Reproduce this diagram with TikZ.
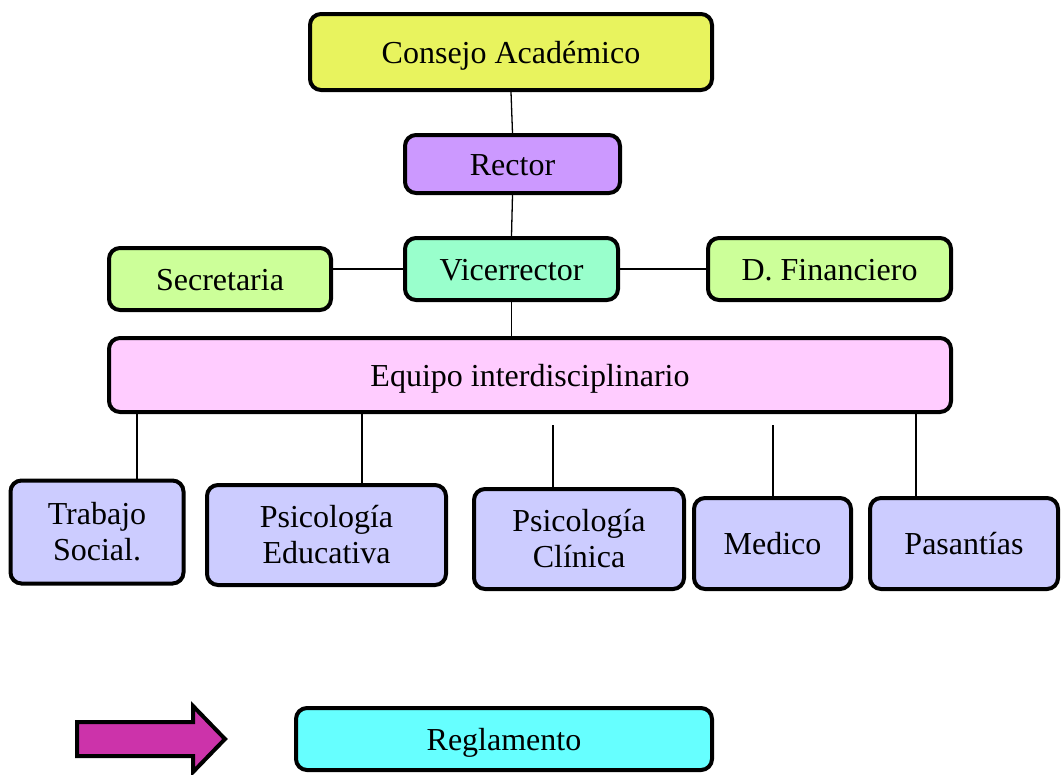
\documentclass[tikz,border=0pt]{standalone}
\usepackage{fontspec}
\setmainfont{Liberation Serif}
\definecolor{cyel}{HTML}{E8F35E}
\definecolor{cpur}{HTML}{CC99FF}
\definecolor{cgrn}{HTML}{CCFF99}
\definecolor{cmint}{HTML}{99FFCC}
\definecolor{cpink}{HTML}{FFCCFF}
\definecolor{clav}{HTML}{CCCCFF}
\definecolor{ccyan}{HTML}{66FFFF}
\definecolor{cmag}{HTML}{CC33AA}
\begin{document}
\begin{tikzpicture}[x=1pt,y=-1pt,
  box/.style={draw=black,line width=4pt,rounded corners=11pt,inner sep=0pt,
    align=center,font=\fontsize{32}{36}\selectfont},
  oneline/.style={text height=22pt,text depth=0pt},
  link/.style={draw=black,line width=1.3pt}]
\useasboundingbox (0,0) rectangle (1062,774);
% boxes (center, size)
\node[box,oneline,fill=cyel,minimum width=402pt,minimum height=76pt] (consejo) at (511,52) {Consejo Académico};
\node[box,oneline,fill=cpur,minimum width=215pt,minimum height=58pt] (rector) at (512.5,164) {Rector};
\node[box,oneline,fill=cgrn,minimum width=222pt,minimum height=62pt] (secre) at (220,279) {Secretaria};
\node[box,oneline,fill=cmint,minimum width=213pt,minimum height=62pt] (vice) at (511.5,269) {Vicerrector};
\node[box,oneline,fill=cgrn,minimum width=243pt,minimum height=62pt] (finan) at (829.5,269) {D. Financiero};
\node[box,oneline,fill=cpink,minimum width=842pt,minimum height=74pt] (equipo) at (530,375) {Equipo interdisciplinario};
\node[box,fill=clav,minimum width=173pt,minimum height=103pt] (trabajo) at (97,532) {Trabajo\\Social.};
\node[box,fill=clav,minimum width=239pt,minimum height=100pt] (pedu) at (326.5,535) {Psicología\\Educativa};
\node[box,fill=clav,minimum width=210pt,minimum height=100pt] (pcli) at (579,539) {Psicología\\Clínica};
\node[box,oneline,fill=clav,minimum width=157pt,minimum height=91pt] (medico) at (772.5,543.5) {Medico};
\node[box,oneline,fill=clav,minimum width=188pt,minimum height=91pt] (pasan) at (964,543.5) {Pasantías};
\node[box,oneline,fill=ccyan,minimum width=416pt,minimum height=62pt] (regla) at (504,739) {Reglamento};
% arrow
\draw[line width=4pt,fill=cmag,line join=miter] (77,722) -- (193,722) -- (193,706) -- (225,739) -- (193,772) -- (193,756) -- (77,756) -- cycle;
% connectors
\draw[link] (consejo.south) -- (rector.north);
\draw[link] (rector.south) -- (vice.north);
\draw[link] (secre.east |- vice.west) -- (vice.west);
\draw[link] (vice.east) -- (finan.west);
\draw[link] (vice.south) -- (equipo.north -| vice.south);
\coordinate (x1) at (137,0);
\coordinate (x2) at (362,0);
\coordinate (x3) at (553,425);
\coordinate (x4) at (773,425);
\coordinate (x5) at (916,0);
\draw[link] (equipo.south -| x1) -- (trabajo.north -| x1);
\draw[link] (equipo.south -| x2) -- (pedu.north -| x2);
\draw[link] (x3) -- (pcli.north -| x3);
\draw[link] (x4) -- (medico.north -| x4);
\draw[link] (equipo.south -| x5) -- (pasan.north -| x5);
\end{tikzpicture}
\end{document}
